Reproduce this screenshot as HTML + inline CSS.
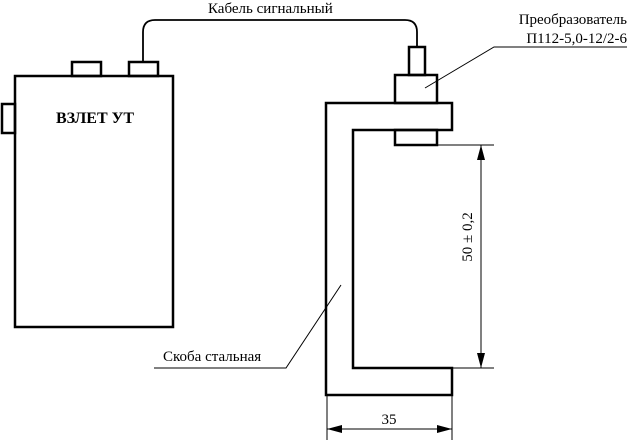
<!DOCTYPE html>
<html><head><style>body{margin:0;background:#fff}svg{display:block}</style></head><body>
<svg width="631" height="440" viewBox="0 0 631 440" xmlns="http://www.w3.org/2000/svg">
<g fill="none" stroke="#000" stroke-width="2.5">
<rect x="15" y="76" width="158" height="251"/>
<rect x="2" y="104" width="13" height="29"/>
<rect x="72" y="62" width="29" height="14"/>
<rect x="129" y="62" width="29" height="14"/>
<path d="M143 62 V32 Q143 20 155 20 H405 Q417 20 417 32 V47" stroke-width="1.8"/>
<rect x="409" y="47" width="16" height="28"/>
<rect x="395" y="75" width="42" height="28"/>
<rect x="395" y="130" width="42" height="15"/>
<path d="M326 395 V103 H452 V130 H353 V368 H452 V395 Z"/>
</g>
<g fill="none" stroke="#000" stroke-width="1">
<line x1="437" y1="145" x2="494" y2="145"/>
<line x1="452" y1="368" x2="494" y2="368"/>
<line x1="481" y1="145" x2="481" y2="368"/>
<line x1="327" y1="395" x2="327" y2="440"/>
<line x1="452" y1="395" x2="452" y2="440"/>
<line x1="327" y1="429" x2="452" y2="429"/>
<path d="M154 368 H286 L341 285"/>
<path d="M627 47 H494 L425 88"/>
</g>
<g fill="#000">
<path d="M481 145 L477 160 L485 160 Z"/>
<path d="M481 368 L477 353 L485 353 Z"/>
<path d="M327 429 L342 425 L342 433 Z"/>
<path d="M452 429 L437 425 L437 433 Z"/>
</g>
<g font-size="15" fill="#000" font-family="'Liberation Serif','DejaVu Serif',serif">
<text x="208" y="13">Кабель сигнальный</text>
<text x="627" y="24" text-anchor="end">Преобразователь</text>
<text x="627" y="43" text-anchor="end">П112-5,0-12/2-6</text>
<text x="163" y="361">Скоба стальная</text>
<text x="389" y="424" text-anchor="middle">35</text>
<text transform="translate(472 237) rotate(-90)" text-anchor="middle">50 ± 0,2</text>
<text x="95" y="123" text-anchor="middle" font-weight="bold" font-size="16">ВЗЛЕТ УТ</text>
</g>
</svg>
</body></html>
